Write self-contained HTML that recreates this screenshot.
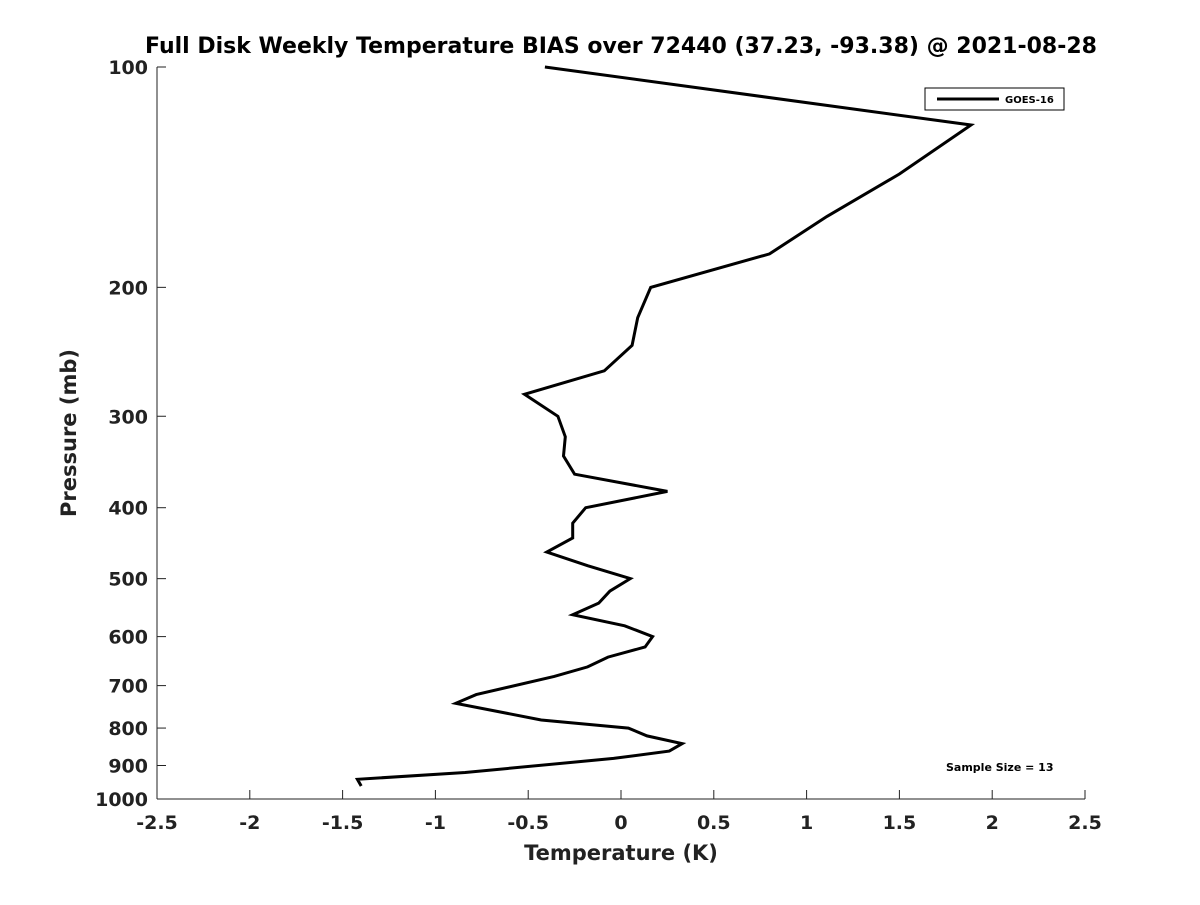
<!DOCTYPE html>
<html><head><meta charset="utf-8"><style>
body{margin:0;background:#fff;}
svg text{font-family:"DejaVu Sans","Liberation Sans",sans-serif;font-weight:bold;fill:#222;}
</style></head><body>
<svg width="1200" height="900" xmlns="http://www.w3.org/2000/svg">
<rect width="1200" height="900" fill="#fff"/>
<text x="621" y="53" font-size="22" text-anchor="middle" style="fill:#000">Full Disk Weekly Temperature BIAS over 72440 (37.23, -93.38) @ 2021-08-28</text>
<g id="axes"></g>
<path id="series" fill="none" stroke="#000" stroke-width="3" stroke-linejoin="miter"/>
<g>
<rect x="925" y="88" width="139" height="22" fill="#fff" stroke="#000" stroke-width="1"/>
<line x1="937" y1="99" x2="999" y2="99" stroke="#000" stroke-width="3"/>
<text x="1005" y="103" font-size="10" style="fill:#000">GOES-16</text>
</g>
<text x="946" y="771" font-size="11" style="fill:#000">Sample Size = 13</text>
<text x="621" y="860" font-size="21" text-anchor="middle">Temperature (K)</text>
<text transform="translate(76,433) rotate(-90)" font-size="21" text-anchor="middle">Pressure (mb)</text>
</svg>
<script>
const temps=[-0.41,1.886,1.50,1.11,0.80,0.16,0.09,0.06,-0.09,-0.52,-0.34,-0.30,-0.31,-0.25,0.25,-0.19,-0.26,-0.26,-0.40,-0.18,0.05,-0.06,-0.12,-0.26,0.02,0.17,0.13,-0.07,-0.18,-0.36,-0.78,-0.89,-0.43,0.04,0.14,0.33,0.26,-0.04,-0.84,-1.42,-1.40];
const pressures=[100,120,140,160,180,200,220,240,260,280,300,320,340,360,380,400,420,440,460,480,500,520,540,560,580,600,620,640,660,680,720,740,780,800,820,840,860,880,920,940,960];
const xTicks=[-2.5,-2,-1.5,-1,-0.5,0,0.5,1,1.5,2,2.5];
const xTickLabels=["-2.5","-2","-1.5","-1","-0.5","0","0.5","1","1.5","2","2.5"];
const yTicks=[100,200,300,400,500,600,700,800,900,1000];
const X0=157,X1=1085,Y0=67,Y1=799;
function xs(t){return X0+(t+2.5)/5*(X1-X0);}
function ys(p){return Y0+Math.log10(p/100)*(Y1-Y0);}
const NS="http://www.w3.org/2000/svg";
const ax=document.getElementById('axes');
function mk(tag,attrs,parent){const e=document.createElementNS(NS,tag);for(const k in attrs)e.setAttribute(k,attrs[k]);parent.appendChild(e);return e;}
const la=mk('line',{x1:X0,y1:Y0,x2:X0,y2:Y1,stroke:'#222','stroke-width':1},ax);


const ba=mk('line',{x1:X0,y1:Y1,x2:X1,y2:Y1,stroke:'#222','stroke-width':1},ax);


xTicks.forEach((t,i)=>{const x=xs(t);
const tk=mk('line',{x1:x,y1:Y1,x2:x,y2:Y1-9,stroke:'#222'},ax);


const tx=mk('text',{x:x,y:Y1+30,'font-size':19,'text-anchor':'middle'},ax);tx.textContent=xTickLabels[i];

});
yTicks.forEach(p=>{const y=ys(p);
const tk=mk('line',{x1:X0,y1:y,x2:X0+9,y2:y,stroke:'#222'},ax);


const tx=mk('text',{x:X0-9,y:y+7,'font-size':19,'text-anchor':'end'},ax);tx.textContent=p;

});
document.getElementById('series').setAttribute('d',temps.map((t,i)=>(i?'L':'M')+xs(t).toFixed(1)+' '+ys(pressures[i]).toFixed(1)).join(' '));
</script>
</body></html>
